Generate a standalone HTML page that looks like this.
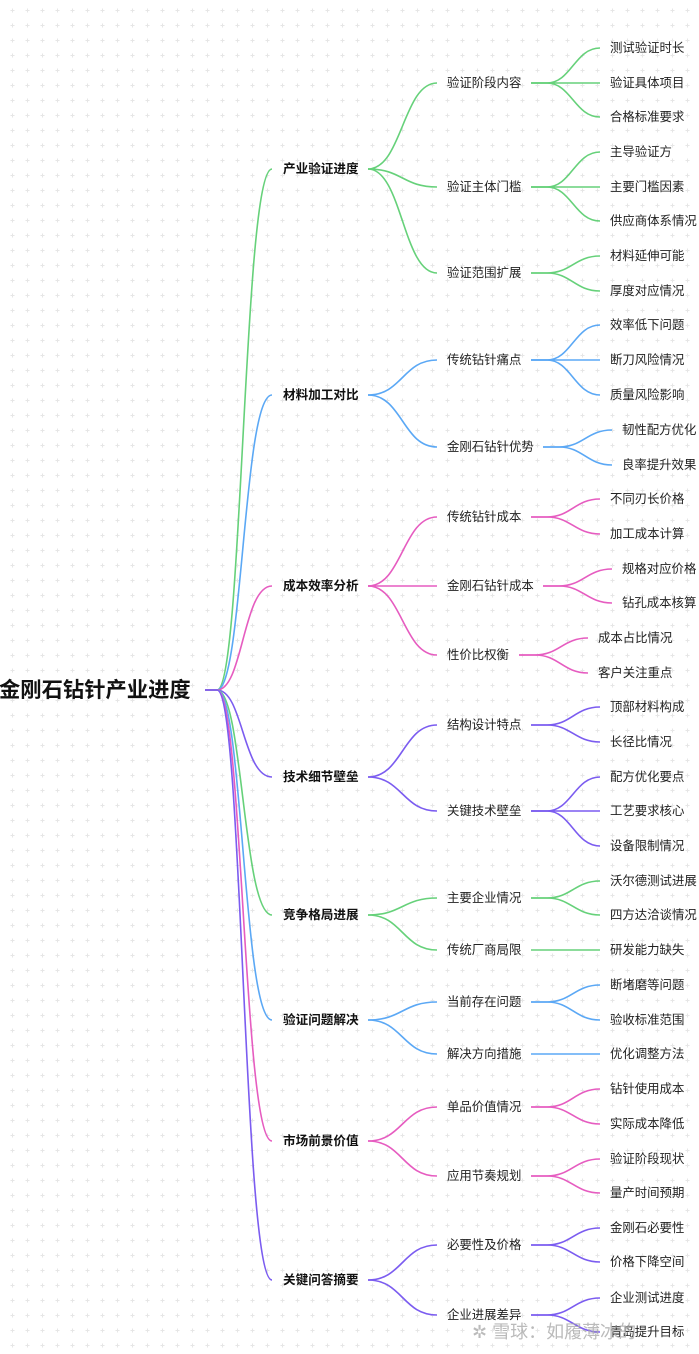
<!DOCTYPE html>
<html><head><meta charset="utf-8"><style>
html,body{margin:0;padding:0;background:#fff;}
svg{display:block;font-family:"Liberation Sans","Noto Sans CJK SC",sans-serif;}
</style></head><body>
<svg width="699" height="1354" viewBox="0 0 699 1354" xmlns="http://www.w3.org/2000/svg">
<defs><pattern id="d" width="15" height="15" patternUnits="userSpaceOnUse" x="5" y="3"><path d="M7.5 5.5v4M5.5 7.5h4" stroke="#e6e6e6" stroke-width="1"/></pattern></defs>
<rect width="699" height="1354" fill="url(#d)"/>
<g fill="none" stroke-width="1.6">
<path d="M205 690H217C243 690 243 169 272 169" stroke="#66d17a"/>
<path d="M205 690H217C243 690 243 395 272 395" stroke="#5ba8f5"/>
<path d="M205 690H217C243 690 243 586 272 586" stroke="#e65cc0"/>
<path d="M205 690H217C243 690 243 777 272 777" stroke="#7b5cf0"/>
<path d="M205 690H217C243 690 243 915 272 915" stroke="#66d17a"/>
<path d="M205 690H217C243 690 243 1020 272 1020" stroke="#5ba8f5"/>
<path d="M205 690H217C243 690 243 1141 272 1141" stroke="#e65cc0"/>
<path d="M205 690H217C243 690 243 1280 272 1280" stroke="#7b5cf0"/>
<g stroke="#66d17a">
<path d="M368 169C402 169 403 83 437 83"/><path d="M368 169C402 169 403 187 437 187"/><path d="M368 169C402 169 403 273 437 273"/>
<path d="M531 83H547C571 83 575 48 600 48"/><path d="M531 83H600"/><path d="M531 83H547C571 83 575 117 600 117"/>
<path d="M531 187H547C571 187 575 152 600 152"/><path d="M531 187H600"/><path d="M531 187H547C571 187 575 221 600 221"/>
<path d="M531 273H547C571 273 575 256 600 256"/><path d="M531 273H547C571 273 575 291 600 291"/>
<path d="M368 915C402 915 403 898 437 898"/><path d="M368 915C402 915 403 950 437 950"/>
<path d="M531 898H547C571 898 575 881 600 881"/><path d="M531 898H547C571 898 575 915 600 915"/><path d="M531 950H600"/>
</g>
<g stroke="#5ba8f5">
<path d="M368 395C402 395 403 360 437 360"/><path d="M368 395C402 395 403 447 437 447"/>
<path d="M531 360H547C571 360 575 325 600 325"/><path d="M531 360H600"/><path d="M531 360H547C571 360 575 395 600 395"/>
<path d="M543 447H559C583 447 587 430 612 430"/><path d="M543 447H559C583 447 587 465 612 465"/>
<path d="M368 1020C402 1020 403 1002 437 1002"/><path d="M368 1020C402 1020 403 1054 437 1054"/>
<path d="M531 1002H547C571 1002 575 985 600 985"/><path d="M531 1002H547C571 1002 575 1020 600 1020"/><path d="M531 1054H600"/>
</g>
<g stroke="#e65cc0">
<path d="M368 586C402 586 403 517 437 517"/><path d="M368 586H437"/><path d="M368 586C402 586 403 655 437 655"/>
<path d="M531 517H547C571 517 575 499 600 499"/><path d="M531 517H547C571 517 575 534 600 534"/>
<path d="M543 586H559C583 586 587 569 612 569"/><path d="M543 586H559C583 586 587 603 612 603"/>
<path d="M519 655H535C559 655 563 638 588 638"/><path d="M519 655H535C559 655 563 673 588 673"/>
<path d="M368 1141C402 1141 403 1107 437 1107"/><path d="M368 1141C402 1141 403 1176 437 1176"/>
<path d="M531 1107H547C571 1107 575 1089 600 1089"/><path d="M531 1107H547C571 1107 575 1124 600 1124"/>
<path d="M531 1176H547C571 1176 575 1159 600 1159"/><path d="M531 1176H547C571 1176 575 1193 600 1193"/>
</g>
<g stroke="#7b5cf0">
<path d="M368 777C402 777 403 725 437 725"/><path d="M368 777C402 777 403 811 437 811"/>
<path d="M531 725H547C571 725 575 707 600 707"/><path d="M531 725H547C571 725 575 742 600 742"/>
<path d="M531 811H547C571 811 575 777 600 777"/><path d="M531 811H600"/><path d="M531 811H547C571 811 575 846 600 846"/>
<path d="M368 1280C402 1280 403 1245 437 1245"/><path d="M368 1280C402 1280 403 1315 437 1315"/>
<path d="M531 1245H547C571 1245 575 1228 600 1228"/><path d="M531 1245H547C571 1245 575 1262 600 1262"/>
<path d="M531 1315H547C571 1315 575 1298 600 1298"/><path d="M531 1315H547C571 1315 575 1332 600 1332"/>
</g>
</g>
<g dominant-baseline="central" fill="#111">
<text x="-1" y="690" font-size="21.3" font-weight="bold">金刚石钻针产业进度</text>
<g font-size="12.6" font-weight="bold">
<text x="283" y="169">产业验证进度</text><text x="283" y="395">材料加工对比</text><text x="283" y="586">成本效率分析</text><text x="283" y="777">技术细节壁垒</text>
<text x="283" y="915">竞争格局进展</text><text x="283" y="1020">验证问题解决</text><text x="283" y="1141">市场前景价值</text><text x="283" y="1280">关键问答摘要</text>
</g>
<g font-size="12.4" fill="#222">
<text x="447" y="83">验证阶段内容</text><text x="447" y="187">验证主体门槛</text><text x="447" y="273">验证范围扩展</text>
<text x="447" y="360">传统钻针痛点</text><text x="447" y="447">金刚石钻针优势</text>
<text x="447" y="517">传统钻针成本</text><text x="447" y="586">金刚石钻针成本</text><text x="447" y="655">性价比权衡</text>
<text x="447" y="725">结构设计特点</text><text x="447" y="811">关键技术壁垒</text>
<text x="447" y="898">主要企业情况</text><text x="447" y="950">传统厂商局限</text>
<text x="447" y="1002">当前存在问题</text><text x="447" y="1054">解决方向措施</text>
<text x="447" y="1107">单品价值情况</text><text x="447" y="1176">应用节奏规划</text>
<text x="447" y="1245">必要性及价格</text><text x="447" y="1315">企业进展差异</text>
<text x="610" y="48">测试验证时长</text><text x="610" y="83">验证具体项目</text><text x="610" y="117">合格标准要求</text>
<text x="610" y="152">主导验证方</text><text x="610" y="187">主要门槛因素</text><text x="610" y="221">供应商体系情况</text>
<text x="610" y="256">材料延伸可能</text><text x="610" y="291">厚度对应情况</text>
<text x="610" y="325">效率低下问题</text><text x="610" y="360">断刀风险情况</text><text x="610" y="395">质量风险影响</text>
<text x="622" y="430">韧性配方优化</text><text x="622" y="465">良率提升效果</text>
<text x="610" y="499">不同刃长价格</text><text x="610" y="534">加工成本计算</text>
<text x="622" y="569">规格对应价格</text><text x="622" y="603">钻孔成本核算</text>
<text x="598" y="638">成本占比情况</text><text x="598" y="673">客户关注重点</text>
<text x="610" y="707">顶部材料构成</text><text x="610" y="742">长径比情况</text>
<text x="610" y="777">配方优化要点</text><text x="610" y="811">工艺要求核心</text><text x="610" y="846">设备限制情况</text>
<text x="610" y="881">沃尔德测试进展</text><text x="610" y="915">四方达洽谈情况</text><text x="610" y="950">研发能力缺失</text>
<text x="610" y="985">断堵磨等问题</text><text x="610" y="1020">验收标准范围</text><text x="610" y="1054">优化调整方法</text>
<text x="610" y="1089">钻针使用成本</text><text x="610" y="1124">实际成本降低</text>
<text x="610" y="1159">验证阶段现状</text><text x="610" y="1193">量产时间预期</text>
<text x="610" y="1228">金刚石必要性</text><text x="610" y="1262">价格下降空间</text>
<text x="610" y="1298">企业测试进度</text><text x="610" y="1332">青岛提升目标</text>
</g>
<text x="472" y="1332" font-size="18" fill="#aaa" fill-opacity="0.8">✲ 雪球：如履薄冰的</text>
</g>
</svg>
</body></html>
